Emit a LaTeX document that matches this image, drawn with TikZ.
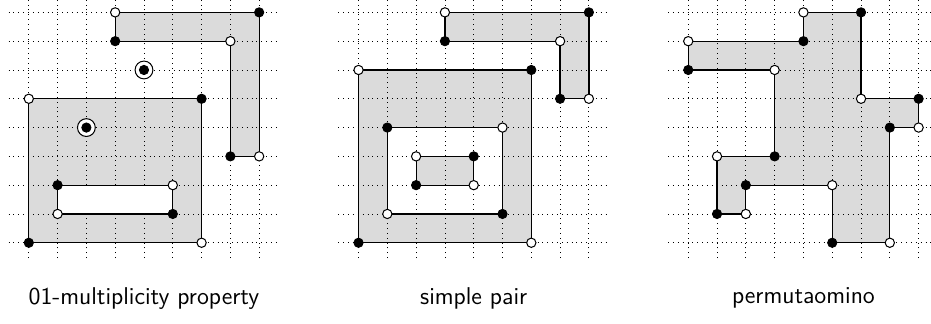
\documentclass[tikz,border=0pt]{standalone}
\definecolor{regiongray}{gray}{0.86}
\begin{document}
\begin{tikzpicture}[x=0.5cm,y=0.5cm,
  gridline/.style={dotted, line width=0.4pt},
  region/.style={fill=regiongray, draw=none},
  outline/.style={draw=black, line width=0.6pt},
  bdot/.style={circle, fill=black, draw=black, line width=0.4pt, inner sep=0pt, minimum size=4.6pt},
  wdot/.style={circle, fill=white, draw=black, line width=0.5pt, inner sep=0pt, minimum size=4.6pt},
  ring/.style={circle, draw=black, fill=white, line width=0.5pt, inner sep=0pt, minimum size=8.8pt},
  lbl/.style={font=\sffamily\large}]
\useasboundingbox (-1.0,-2.82) rectangle (31.33,8.43);

% ---------------- Panel 1 ----------------
\begin{scope}
\coordinate (a1) at (3,8); \coordinate (a2) at (8,8); \coordinate (a3) at (8,3);
\coordinate (a4) at (7,3); \coordinate (a5) at (7,7); \coordinate (a6) at (3,7);
\coordinate (a7) at (0,5); \coordinate (a8) at (6,5); \coordinate (a9) at (6,0); \coordinate (a10) at (0,0);
\coordinate (a11) at (1,2); \coordinate (a12) at (5,2); \coordinate (a13) at (5,1); \coordinate (a14) at (1,1);
\fill[region] (a1) -- (a2) -- (a3) -- (a4) -- (a5) -- (a6) -- cycle;
\fill[region] (a7) -- (a8) -- (a9) -- (a10) -- cycle;
\foreach \i in {0,...,8} {
  \draw[gridline] (-0.7,\i) -- (8.65,\i);
  \draw[gridline] (\i,-0.53) -- (\i,8.7);
}
\fill[white] (a11) -- (a12) -- (a13) -- (a14) -- cycle;
\draw[outline] (a1) -- (a2) -- (a3) -- (a4) -- (a5) -- (a6) -- cycle;
\draw[outline] (a7) -- (a8) -- (a9) -- (a10) -- cycle;
\draw[outline] (a11) -- (a12) -- (a13) -- (a14) -- cycle;
\foreach \p in {a1,a3,a5,a7,a9,a12,a14} \node[wdot] at (\p) {};
\foreach \p in {a2,a4,a6,a8,a10,a11,a13} \node[bdot] at (\p) {};
\node[ring] (r1) at (4,6) {}; \node[bdot] at (r1.center) {};
\node[ring] (r2) at (2,4) {}; \node[bdot] at (r2.center) {};
\node[lbl] (l1) at (4,-1.92) {01-multiplicity property};
\end{scope}

% ---------------- Panel 2 ----------------
\begin{scope}[shift={(11.45,0)}]
\coordinate (b1) at (3,8); \coordinate (b2) at (8,8); \coordinate (b3) at (8,5);
\coordinate (b4) at (7,5); \coordinate (b5) at (7,7); \coordinate (b6) at (3,7);
\coordinate (b7) at (0,6); \coordinate (b8) at (6,6); \coordinate (b9) at (6,0); \coordinate (b10) at (0,0);
\coordinate (b11) at (1,4); \coordinate (b12) at (5,4); \coordinate (b13) at (5,1); \coordinate (b14) at (1,1);
\coordinate (b15) at (2,3); \coordinate (b16) at (4,3); \coordinate (b17) at (4,2); \coordinate (b18) at (2,2);
\fill[region] (b1) -- (b2) -- (b3) -- (b4) -- (b5) -- (b6) -- cycle;
\fill[region, even odd rule] (b7) -- (b8) -- (b9) -- (b10) -- cycle
   (b11) -- (b12) -- (b13) -- (b14) -- cycle
   (b15) -- (b16) -- (b17) -- (b18) -- cycle;
\foreach \i in {0,...,8} {
  \draw[gridline] (-0.7,\i) -- (8.65,\i);
  \draw[gridline] (\i,-0.53) -- (\i,8.7);
}
\draw[outline] (b1) -- (b2) -- (b3) -- (b4) -- (b5) -- (b6) -- cycle;
\draw[outline] (b7) -- (b8) -- (b9) -- (b10) -- cycle;
\draw[outline] (b11) -- (b12) -- (b13) -- (b14) -- cycle;
\draw[outline] (b15) -- (b16) -- (b17) -- (b18) -- cycle;
\foreach \p in {b1,b3,b5,b7,b9,b12,b14,b15,b17} \node[wdot] at (\p) {};
\foreach \p in {b2,b4,b6,b8,b10,b11,b13,b16,b18} \node[bdot] at (\p) {};
\node[lbl] (l2) at (4,-1.92) {simple pair};
\end{scope}

% ---------------- Panel 3 ----------------
\begin{scope}[shift={(22.9,0)}]
\coordinate (c1) at (4,8); \coordinate (c2) at (6,8); \coordinate (c3) at (6,5);
\coordinate (c4) at (8,5); \coordinate (c5) at (8,4); \coordinate (c6) at (7,4);
\coordinate (c7) at (7,0); \coordinate (c8) at (5,0); \coordinate (c9) at (5,2);
\coordinate (c10) at (2,2); \coordinate (c11) at (2,1); \coordinate (c12) at (1,1);
\coordinate (c13) at (1,3); \coordinate (c14) at (3,3); \coordinate (c15) at (3,6);
\coordinate (c16) at (0,6); \coordinate (c17) at (0,7); \coordinate (c18) at (4,7);
\fill[region] (c1) -- (c2) -- (c3) -- (c4) -- (c5) -- (c6) -- (c7) -- (c8) -- (c9)
  -- (c10) -- (c11) -- (c12) -- (c13) -- (c14) -- (c15) -- (c16) -- (c17) -- (c18) -- cycle;
\foreach \i in {0,...,8} {
  \draw[gridline] (-0.7,\i) -- (8.65,\i);
  \draw[gridline] (\i,-0.53) -- (\i,8.7);
}
\draw[outline] (c1) -- (c2) -- (c3) -- (c4) -- (c5) -- (c6) -- (c7) -- (c8) -- (c9)
  -- (c10) -- (c11) -- (c12) -- (c13) -- (c14) -- (c15) -- (c16) -- (c17) -- (c18) -- cycle;
\foreach \p in {c1,c3,c5,c7,c9,c11,c13,c15,c17} \node[wdot] at (\p) {};
\foreach \p in {c2,c4,c6,c8,c10,c12,c14,c16,c18} \node[bdot] at (\p) {};
\node[lbl] (l3) at (4,-1.92) {permutaomino};
\end{scope}
\end{tikzpicture}
\end{document}
